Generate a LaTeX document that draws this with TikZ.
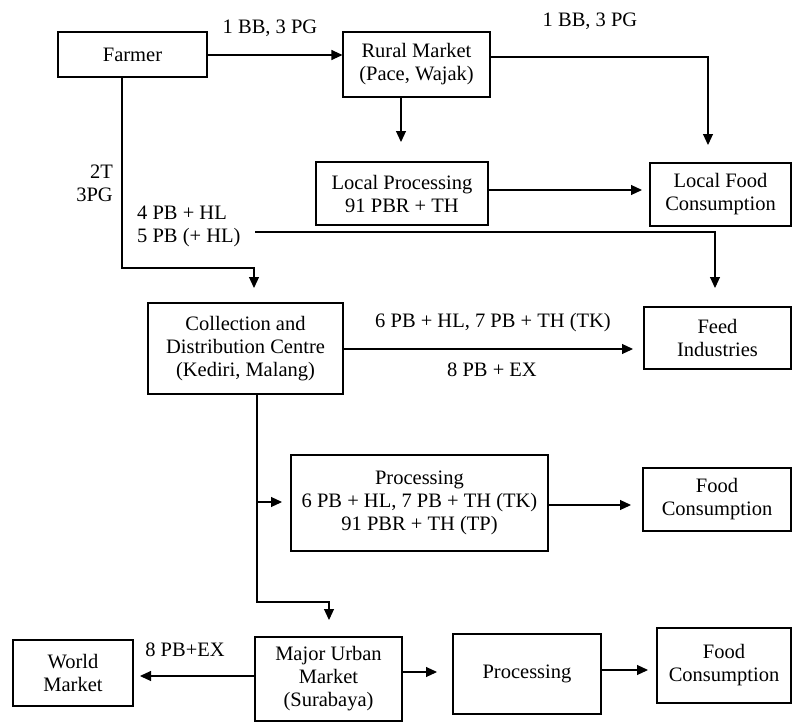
\documentclass[tikz,border=0pt]{standalone}
\usepackage{fontspec}
\setmainfont{Liberation Serif}
\usetikzlibrary{arrows.meta}
\begin{document}
\begin{tikzpicture}[x=1pt,y=-1pt,
  box/.style={draw,line width=1.1pt,align=center,inner sep=0pt,font=\fontsize{20.5}{23}\selectfont},
  lbl/.style={align=center,inner sep=0pt,font=\fontsize{20.5}{23}\selectfont},
  conn/.style={line width=1.1pt,-{Triangle[length=11pt,width=10pt]}},
  plain/.style={line width=1.1pt}]
\useasboundingbox (0,0) rectangle (793,723);
% boxes
\node[box,minimum width=149pt,minimum height=45pt] (farmer) at (132.5,54.5) {Farmer};
\node[box,minimum width=147pt,minimum height=65pt] (rural) at (416.5,64.5) {Rural Market\\(Pace, Wajak)};
\node[box,minimum width=172pt,minimum height=63pt] (lproc) at (402,193.5) {Local Processing\\91 PBR + TH};
\node[box,minimum width=141pt,minimum height=63pt] (lfc) at (720.5,194.5) {Local Food\\Consumption};
\node[box,minimum width=195pt,minimum height=91pt] (coll) at (245.5,348.5) {Collection and\\Distribution Centre\\(Kediri, Malang)};
\node[box,minimum width=147pt,minimum height=62pt] (feed) at (717.5,338) {Feed\\Industries};
\node[box,minimum width=257pt,minimum height=96pt] (proc) at (419.5,503) {Processing\\6 PB + HL, 7 PB + TH (TK)\\91 PBR + TH (TP)};
\node[box,minimum width=148pt,minimum height=63pt] (fc) at (717,499.5) {Food\\Consumption};
\node[box,minimum width=147pt,minimum height=84pt] (mum) at (328.5,679) {Major Urban\\Market\\(Surabaya)};
\node[box,minimum width=120pt,minimum height=66pt] (world) at (73,673) {World\\Market};
\node[box,minimum width=148pt,minimum height=80pt] (proc2) at (527,674) {Processing};
\node[box,minimum width=134pt,minimum height=75pt] (fc2) at (724,665.5) {Food\\Consumption};
% labels
\node[lbl] (l1) at (270,28) {1 BB, 3 PG};
\node[lbl] (l2) at (590,21) {1 BB, 3 PG};
\node[lbl,anchor=east,align=right] (l3) at (113,183.5) {2T\\3PG};
\node[lbl,anchor=west,align=left] (l4) at (137,226) {4 PB + HL\\5 PB (+ HL)};
\node[lbl] (l5) at (493,323) {6 PB + HL, 7 PB + TH (TK)};
\node[lbl] (l6) at (492,370) {8 PB + EX};
\node[lbl] (l7) at (185,650) {8 PB+EX};
% coordinates
\coordinate (fdown) at (122,268);
\coordinate (s5) at (255,232);
\coordinate (cdown) at (257,602);
\coordinate (cbranch) at (257,502);
% connectors
\draw[conn] (farmer.east |- 0,55) -- (rural.west |- 0,55);
\draw[conn] (rural.east |- 0,57) -| (708,145);
\draw[conn] (401,97) -- (401,142);
\draw[conn] (lproc.east |- 0,190) -- (642,190);
\draw[conn] (122,77) -- (fdown) -| (254,288);
\draw[conn] (s5) -| (715,288);
\draw[conn] (coll.east |- 0,349) -- (633,349);
\draw[conn] (257,394) -- (cdown) -| (329,620);
\draw[conn] (cbranch) -- (282,502);
\draw[conn] (proc.east |- 0,505) -- (631,505);
\draw[conn] (mum.west |- 0,676) -- (140,676);
\draw[conn] (mum.east |- 0,672) -- (437,672);
\draw[conn] (proc2.east |- 0,670) -- (648,670);
\end{tikzpicture}
\end{document}
